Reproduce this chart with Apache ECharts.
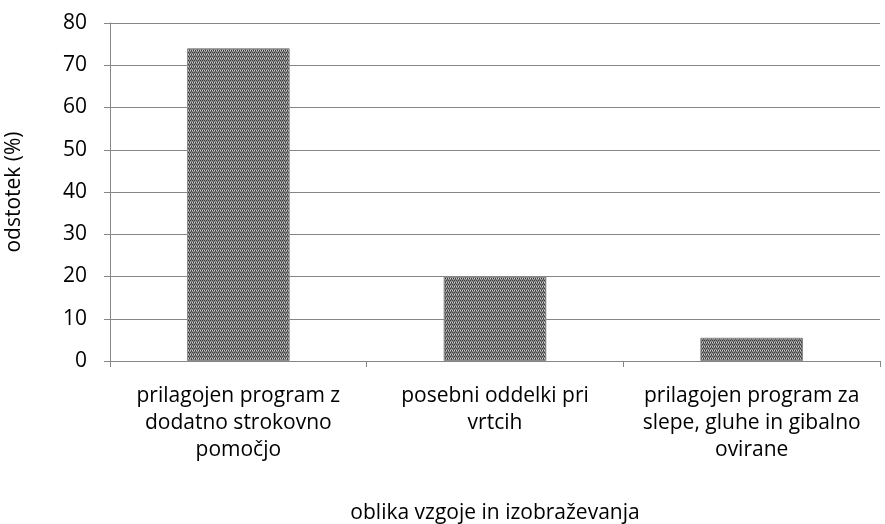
<!DOCTYPE html>
<html>
<head>
<meta charset="utf-8">
<script src="https://cdn.jsdelivr.net/npm/echarts@6/dist/echarts.min.js"></script>
<style>
  html, body { margin: 0; padding: 0; background: #fff; }
  #chart { width: 885px; height: 524px; }
</style>
</head>
<body>
<div id="chart"></div>
<script>
// kategorije in vrednosti
const categories = [
  'prilagojen program z\ndodatno strokovno\npomočjo',
  'posebni oddelki pri\nvrtcih',
  'prilagojen program za\nslepe, gluhe in gibalno\novirane'
];
const values = [74, 20, 5.5];
const yTicks = { min: 0, max: 80, interval: 10 };

// vzorec za stolpce (šahovnica)
function makePattern() {
  const c = document.createElement('canvas');
  c.width = 4; c.height = 4;
  const ctx = c.getContext('2d');
  ctx.fillStyle = '#8a8a8a';
  ctx.fillRect(0, 0, 4, 4);
  ctx.fillStyle = '#3a3a3a';
  ctx.fillRect(0, 0, 1, 1); ctx.fillRect(2, 0, 1, 1);
  ctx.fillRect(1, 2, 1, 1); ctx.fillRect(3, 2, 1, 1);
  ctx.fillStyle = '#5a5a5a';
  ctx.fillRect(1, 1, 1, 1); ctx.fillRect(3, 3, 1, 1);
  ctx.fillStyle = '#d0d0d0';
  ctx.fillRect(0, 2, 1, 1); ctx.fillRect(2, 2, 1, 1);
  return c;
}

const font = '"Open Sans", "DejaVu Sans", sans-serif';
const chart = echarts.init(document.getElementById('chart'));
chart.setOption({
  animation: false,
  grid: { left: 110, right: 5, top: 23, bottom: 163, outerBoundsMode: 'none' },
  xAxis: {
    type: 'category',
    data: categories,
    name: 'oblika vzgoje in izobraževanja',
    nameLocation: 'middle',
    nameGap: 142,
    nameTextStyle: { fontFamily: font, fontSize: 21, color: '#000' },
    axisLine: { lineStyle: { color: '#868686', width: 1 } },
    axisTick: { show: true, length: 6, lineStyle: { color: '#868686' } },
    axisLabel: {
      fontFamily: font, fontSize: 21, color: '#000',
      lineHeight: 27, margin: 22, interval: 0
    }
  },
  yAxis: {
    type: 'value',
    min: yTicks.min, max: yTicks.max, interval: yTicks.interval,
    name: 'odstotek (%)',
    nameLocation: 'middle',
    nameGap: 85,
    nameTextStyle: { fontFamily: font, fontSize: 21, color: '#000' },
    axisLine: { show: true, lineStyle: { color: '#868686', width: 1 } },
    axisTick: { show: true, length: 6, lineStyle: { color: '#868686' } },
    axisLabel: { fontFamily: font, fontSize: 21, color: '#000', margin: 23 },
    splitLine: { lineStyle: { color: '#868686', width: 1 } }
  },
  series: [{
    type: 'bar',
    data: values,
    barWidth: '40%',
    itemStyle: {
      color: { image: makePattern(), repeat: 'repeat' },
      borderColor: '#8a8a8a',
      borderWidth: 1
    }
  }]
});
</script>
</body>
</html>
